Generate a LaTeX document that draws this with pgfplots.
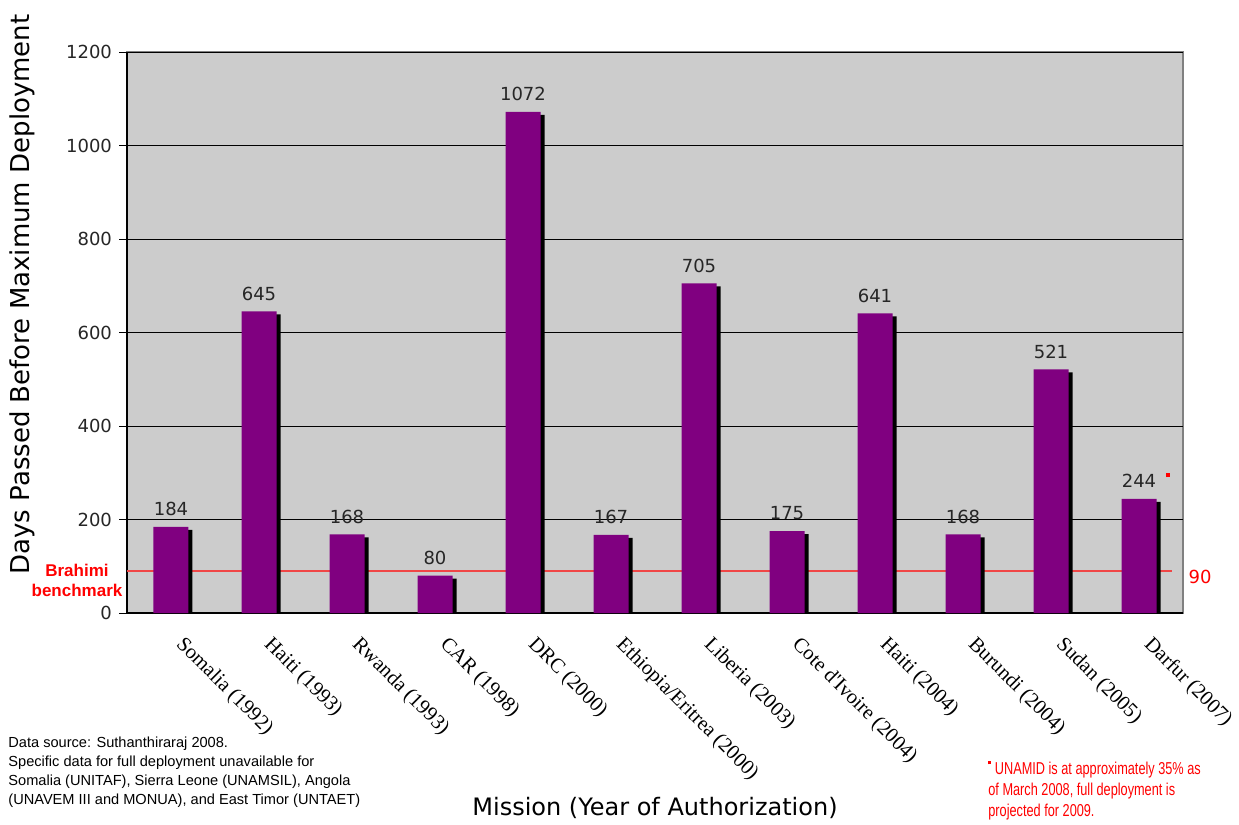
\documentclass[border=0pt]{standalone}
\usepackage{fontspec}
\setmainfont{DejaVu Sans}
\newfontfamily\timesf{Liberation Serif}
\newfontfamily\notef{Liberation Sans}
\newfontfamily\narrowf[FakeStretch=0.74]{Liberation Sans}
\usepackage{pgfplots}
\pgfplotsset{compat=1.18}
\definecolor{plotgray}{RGB}{204,204,204}
\definecolor{barpurple}{RGB}{128,0,128}
\definecolor{benchred}{RGB}{240,70,70}
\definecolor{notered}{RGB}{255,0,0}

\begin{document}
\begin{tikzpicture}
% page = 1239 x 825 px, 1 px = 0.5pt
\useasboundingbox (0,0) rectangle (619.5pt,-412.5pt);
\begin{axis}[
  at={(63.5pt,-306.5pt)}, anchor=south west,
  width=528pt, height=280.5pt, scale only axis,
  xmin=-0.5, xmax=11.5, ymin=0, ymax=1200,
  ybar, bar width=17.5pt,
  ytick={0,200,...,1200},
  xtick={0,...,11},
  xticklabels={Somalia (1992), Haiti (1993), Rwanda (1993), CAR (1998), DRC (2000),
    Ethiopia/Eritrea (2000), Liberia (2003), Cote d'Ivoire (2004), Haiti (2004),
    Burundi (2004), Sudan (2005), Darfur (2007)},
  x tick label style={font=\timesf\fontsize{10.3}{12}\selectfont, rotate=-45,
    anchor=north west, inner sep=0pt, yshift=0.5pt, xshift=10pt},
  y tick label style={font=\fontsize{9}{10}\selectfont, black!85},
  /pgf/number format/assume math mode=true,
  /pgf/number format/1000 sep={},
  ymajorgrids, grid style={black, line width=0.5pt},
  axis background/.style={fill=plotgray, draw=gray, line width=0.8pt},
  axis x line*=bottom, axis y line*=left,
  axis line style={black, line width=0.6pt, -},
  xtick style={draw=none},
  ytick style={black, line width=0.5pt},
  tick align=outside, major tick length=4pt,
]
\addplot[sharp plot, benchred, line width=1pt, mark=none, forget plot]
  coordinates {(-0.5,90) (11.375,90)};
% shadow
\addplot[fill=black, draw=none, bar shift=2pt, yshift=-1.5pt]
  coordinates {(0,184) (1,645) (2,168) (3,80) (4,1072) (5,167) (6,705) (7,175) (8,641) (9,168) (10,521) (11,244)};
\addplot[fill=barpurple, draw=none, bar shift=0pt,
  nodes near coords,
  nodes near coords style={font=\fontsize{9}{10}\selectfont, black!85, yshift=2pt}]
  coordinates {(0,184) (1,645) (2,168) (3,80) (4,1072) (5,167) (6,705) (7,175) (8,641) (9,168) (10,521) (11,244)};
\node[notered, inner sep=0pt] at (axis cs:11.33,295) {\rule{2pt}{2pt}};
\end{axis}
% annotations
\node[notered, font=\fontsize{9}{10}\selectfont] at (600pt,-288.5pt) {90};
\node[notered, font=\notef\bfseries\fontsize{8.5}{10}\selectfont, align=center]
  at (38.5pt,-290pt) {Brahimi\\benchmark};
\node[rotate=90, anchor=west, inner sep=0pt, font=\fontsize{13}{15}\selectfont]
  at (11pt,-287.5pt) {Days Passed Before Maximum Deployment};
\node[font=\fontsize{12}{14}\selectfont] at (327.5pt,-404pt)
  {Mission (Year of Authorization)};
\node[anchor=north west, align=left, inner sep=0pt,
  font=\notef\fontsize{7.3}{9.5}\selectfont] at (4pt,-368.5pt)
  {Data source: Suthanthiraraj 2008.\\
   Specific data for full deployment unavailable for\\
   Somalia (UNITAF), Sierra Leone (UNAMSIL), Angola\\
   (UNAVEM III and MONUA), and East Timor (UNTAET)};
\node[anchor=north west, align=left, inner sep=0pt, notered,
  font=\narrowf\fontsize{8.6}{10.5}\selectfont] at (494pt,-380.5pt)
  {\rule[5pt]{1.5pt}{1.5pt} UNAMID is at approximately 35\% as\\
   of March 2008, full deployment is\\
   projected for 2009.};
\end{tikzpicture}
\end{document}
